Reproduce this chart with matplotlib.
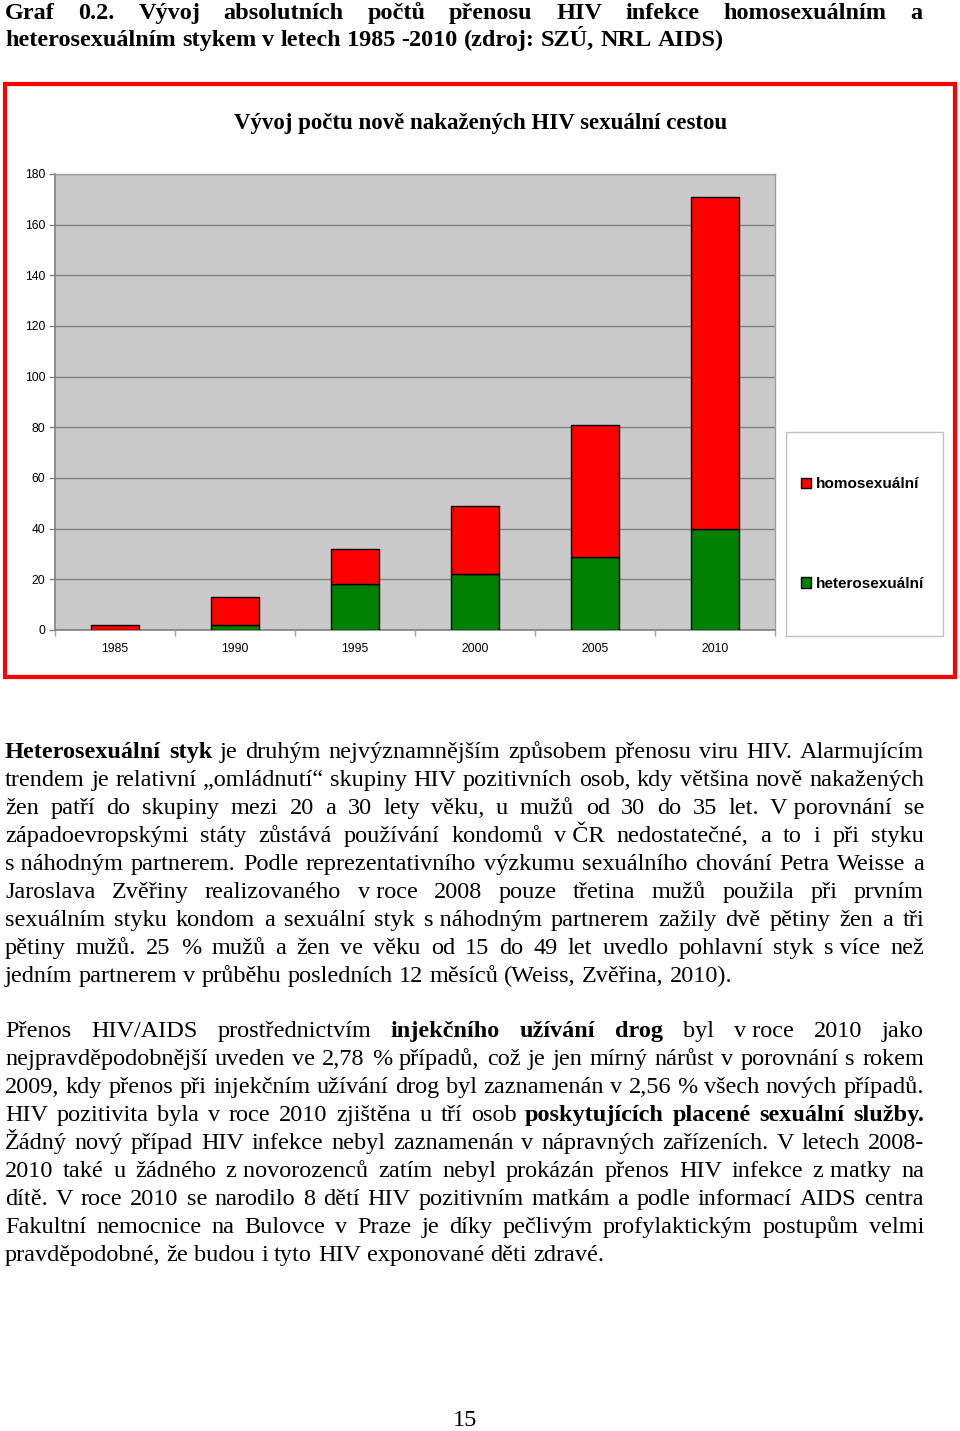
import matplotlib
matplotlib.use("Agg")
import matplotlib.pyplot as plt
import numpy as np
from matplotlib.patches import Rectangle

# ---------------- data ----------------
years = ["1985", "1990", "1995", "2000", "2005", "2010"]
heterosexualni = [0, 2, 18, 22, 29, 40]
homosexualni = [2, 11, 14, 27, 52, 131]
y_ticks = [0, 20, 40, 60, 80, 100, 120, 140, 160, 180]
chart_title = "Vývoj počtu nově nakažených HIV sexuální cestou"
legend_labels = ["homosexuální", "heterosexuální"]

NB = "\u00a0"
heading_lines = [
    [("Graf 0.2. Vývoj absolutních počtů přenosu HIV infekce homosexuálním a", "bold")],
    [("heterosexuálním stykem v letech 1985 -2010 (zdroj: SZÚ, NRL AIDS)", "bold")],
]
para1_lines = [
    [("Heterosexuální styk", "bold"), ("je druhým nejvýznamnějším způsobem přenosu viru HIV. Alarmujícím", "normal")],
    [("trendem je relativní „omládnutí“ skupiny HIV pozitivních osob, kdy většina nově nakažených", "normal")],
    [("žen patří do skupiny mezi 20 a 30 lety věku, u mužů od 30 do 35 let. V" + NB + "porovnání se", "normal")],
    [("západoevropskými státy zůstává používání kondomů v" + NB + "ČR nedostatečné, a to i při styku", "normal")],
    [("s" + NB + "náhodným partnerem. Podle reprezentativního výzkumu sexuálního chování Petra Weisse a", "normal")],
    [("Jaroslava Zvěřiny  realizovaného v" + NB + "roce 2008 pouze třetina mužů použila při prvním", "normal")],
    [("sexuálním styku kondom a sexuální styk s" + NB + "náhodným partnerem zažily dvě pětiny žen a tři", "normal")],
    [("pětiny mužů. 25 % mužů a žen ve věku od 15 do 49 let uvedlo pohlavní styk s" + NB + "více než", "normal")],
    [("jedním partnerem v průběhu posledních 12 měsíců (Weiss, Zvěřina, 2010).", "normal")],
]
para2_lines = [
    [("Přenos HIV/AIDS prostřednictvím", "normal"), ("injekčního užívání drog", "bold"), ("byl v" + NB + "roce 2010 jako", "normal")],
    [("nejpravděpodobnější uveden ve 2,78 % případů, což je jen mírný nárůst v porovnání s rokem", "normal")],
    [("2009, kdy přenos při injekčním užívání drog byl zaznamenán v 2,56 % všech nových případů.", "normal")],
    [("HIV pozitivita byla v roce 2010 zjištěna u tří osob", "normal"), ("poskytujících placené sexuální služby.", "bold")],
    [("Žádný nový případ HIV infekce nebyl zaznamenán v nápravných zařízeních. V letech 2008-", "normal")],
    [("2010 také u žádného z" + NB + "novorozenců zatím nebyl prokázán přenos HIV infekce z" + NB + "matky na", "normal")],
    [("dítě. V roce 2010 se narodilo 8 dětí HIV pozitivním matkám a podle informací AIDS centra", "normal")],
    [("Fakultní nemocnice na Bulovce v Praze je díky pečlivým profylaktickým postupům velmi", "normal")],
    [("pravděpodobné, že budou i tyto HIV exponované děti zdravé.", "normal")],
]
page_number = "15"

# ---------------- figure ----------------
W, H = 960, 1431
fig = plt.figure(figsize=(W / 100, H / 100), dpi=100)
fig.patch.set_facecolor("white")


def fx(x):
    return x / W


def fy(y):
    return 1 - y / H


# red frame around chart
fig.patches.append(Rectangle((fx(5), fy(677)), fx(955) - fx(5), fy(84) - fy(677),
                             transform=fig.transFigure, fill=False,
                             edgecolor="#FF0000", linewidth=3.0, zorder=1))

fig.text(fx(481), fy(124), chart_title, ha="center", va="center",
         fontsize=16.5, fontweight="bold", family="Liberation Serif")

ax = fig.add_axes([fx(55), fy(630), fx(775) - fx(55), fy(174) - fy(630)])
ax.set_facecolor("#CACACA")
xpos = np.arange(len(years))
b_het = ax.bar(xpos, heterosexualni, width=0.4, color="#008000", edgecolor="black",
               linewidth=1.0, label=legend_labels[1], zorder=3)
b_hom = ax.bar(xpos, homosexualni, bottom=heterosexualni, width=0.4, color="#FF0000",
               edgecolor="black", linewidth=1.0, label=legend_labels[0], zorder=3)
ax.set_xlim(-0.5, len(years) - 0.5)
ax.set_ylim(0, 180)
ax.set_yticks(y_ticks)
ax.set_yticklabels([str(v) for v in y_ticks], family="Liberation Sans", fontsize=8.7)
ax.set_xticks(xpos)
ax.set_xticklabels(years, family="Liberation Sans", fontsize=8.7)
ax.set_xticks(np.arange(-0.5, len(years), 1.0), minor=True)
ax.tick_params(axis="x", which="major", length=0, pad=9.5)
ax.tick_params(axis="x", which="minor", length=4, color="#A0A0A0", width=1)
ax.tick_params(axis="y", length=4, color="#808080", width=1, pad=3)
ax.grid(axis="y", color="#808080", linewidth=1.0, zorder=1)
ax.set_axisbelow(True)
for s in ["top", "right"]:
    ax.spines[s].set_color("#A0A0A0")
    ax.spines[s].set_linewidth(1.0)
for s in ["left", "bottom"]:
    ax.spines[s].set_color("#808080")
    ax.spines[s].set_linewidth(1.2)

# legend box and entries
fig.patches.append(Rectangle((fx(786), fy(636)), fx(943) - fx(786), fy(432) - fy(636),
                             transform=fig.transFigure, facecolor="white",
                             edgecolor="#C0C0C0", linewidth=1.0, zorder=2))
leg = fig.legend([b_hom, b_het], legend_labels, loc="center left",
                 bbox_to_anchor=(fx(801), fy(534)),
                 bbox_transform=fig.transFigure,
                 prop={"family": "Liberation Sans", "weight": "bold", "size": 11},
                 handlelength=0.65, handleheight=0.65, handletextpad=0.3,
                 labelspacing=5.6, borderpad=0.0, borderaxespad=0,
                 frameon=False)
leg.set_zorder(5)

# ---------------- justified text ----------------
renderer = fig.canvas.get_renderer()
SERIF = "Liberation Serif"
FS = 17.5


def place_line(segments, baseline, x0=5, x1=924, justify=True, size=FS):
    words = []
    for text, weight in segments:
        for w in text.split(" "):
            if w:
                words.append((w, weight))
    objs, widths = [], []
    for w, weight in words:
        t = fig.text(0, fy(baseline), w, fontsize=size, fontweight=weight,
                     family=SERIF, ha="left", va="baseline")
        objs.append(t)
        widths.append(t.get_window_extent(renderer).width)
    natural = 0.25 * size * 100 / 72
    if justify and len(words) > 1:
        gap = (x1 - x0 - sum(widths)) / (len(words) - 1)
    else:
        gap = natural
    x = x0
    for t, wdt in zip(objs, widths):
        t.set_x(fx(x))
        x += wdt + gap


for i, line in enumerate(heading_lines):
    place_line(line, 19 + 27 * i, x1=922, justify=(i < len(heading_lines) - 1), size=17.5)

for i, line in enumerate(para1_lines):
    place_line(line, 758 + 28 * i, justify=(i < len(para1_lines) - 1))

for i, line in enumerate(para2_lines):
    place_line(line, 1037 + 28 * i, justify=(i < len(para2_lines) - 1))

fig.text(fx(465), fy(1421), page_number, ha="center", va="center",
         fontsize=FS, family=SERIF)

fig.savefig("out.png", dpi=100)
